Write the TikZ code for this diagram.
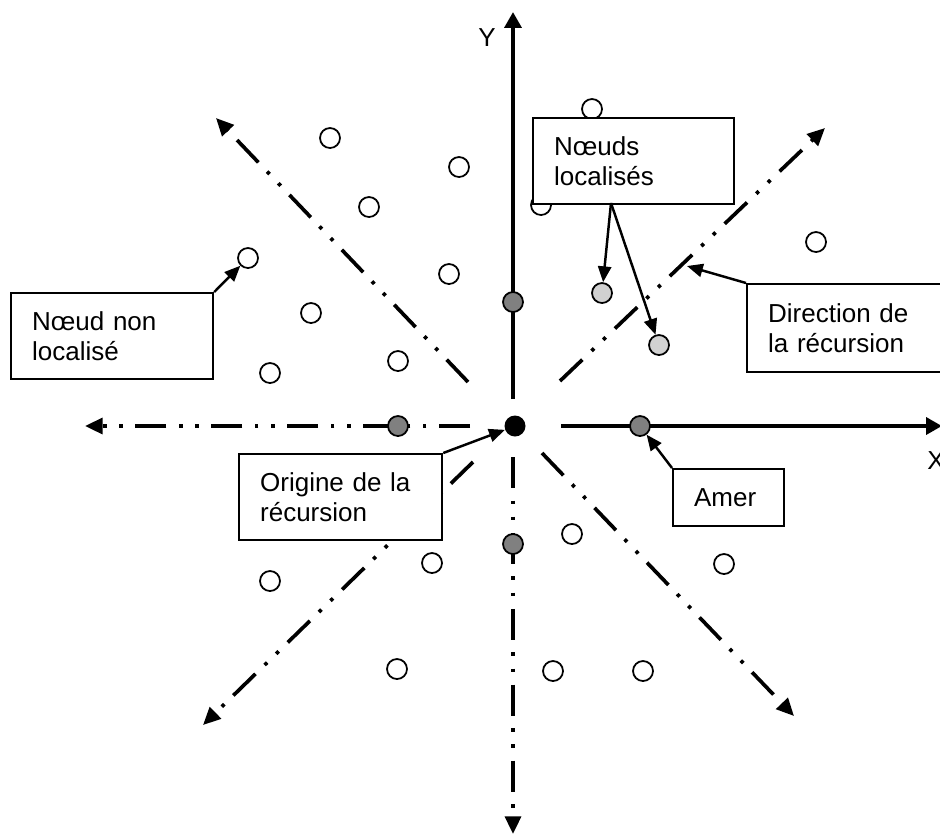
\documentclass[tikz,border=0pt]{standalone}
\usepackage{fontspec}
\setmainfont{Liberation Sans}
\usetikzlibrary{arrows.meta}

\tikzstyle{sensor free}=[draw,circle,minimum size=0.4cm,
    inner sep=0pt,line width=1pt,fill=white]
\tikzstyle{sensor located}=[sensor free,fill=black!18]
\tikzstyle{sensor amer}=[sensor free,fill=black!50]
\tikzstyle{sensor origin}=[fill,circle,minimum size=0.42cm,
    inner sep=0pt,color=black]
\tikzstyle{axis}=[line width=2.2pt,-{Triangle[length=9pt,width=9.5pt]}]
\tikzstyle{recursion}=[line width=2.1pt,
    dash pattern=on 17.6pt off 7.2pt on 2pt off 7.2pt on 2pt off 7.2pt,
    -{Triangle[length=10pt,width=9pt]}]
\tikzstyle{info}=[draw,fill=white,line width=1.3pt,anchor=north west,
    align=left,inner xsep=0.42cm,inner ysep=0pt]
\tikzstyle{pointer}=[line width=1.4pt,-{Triangle[length=9pt,width=7.5pt]}]
\newcommand{\sensor}[3][]{
    \node[sensor free,#1] at (#2) (#3) {};
}
\newcommand{\infobox}[5]{
    \node[info,text width=#3,minimum height=#4] at (#1) (#2) {#5};
}
\newcommand{\recursion}[2]{\draw[recursion] (#1) -- (#2);}
\newcommand{\pointer}[2]{\draw[pointer] (#1) -- (#2);}

\begin{document}
\begin{tikzpicture}[x=0.02cm,y=-0.02cm,
    font=\fontsize{14.8pt}{17.1pt}\selectfont]
    \useasboundingbox (0,0) rectangle (940,836);
    %
    \coordinate (NEs) at (560,381);
    \coordinate (NEt) at (825,128);
    \coordinate (NWs) at (468,382);
    \coordinate (NWt) at (216,118);
    \coordinate (SEs) at (542,453);
    \coordinate (SEt) at (794,716);
    \coordinate (SWs) at (473,462);
    \coordinate (SWt) at (203,725);
    \coordinate (Ws) at (470,426);
    \coordinate (Wt) at (85,426);
    \coordinate (Ss) at (513,457);
    \coordinate (St) at (513,834);
    \recursion{NEs}{NEt}
    \recursion{NWs}{NWt}
    \recursion{SEs}{SEt}
    \recursion{SWs}{SWt}
    \recursion{Ws}{Wt}
    \recursion{Ss}{St}
    %
    \coordinate (Ys) at (513,399);
    \coordinate (Yt) at (513,12);
    \coordinate (Xs) at (561,426);
    \coordinate (Xt) at (942,426);
    \draw[axis] (Ys) -- (Yt);
    \draw[axis] (Xs) -- (Xt);
    \node (ylabel) at (487,38) {Y};
    \node (xlabel) at (936,461) {X};
    %
    \node[sensor origin] at (515,426) (origin) {};
    \sensor[sensor amer]{513,302}{a1}
    \sensor[sensor amer]{640,426}{a2}
    \sensor[sensor amer]{513,544}{a3}
    \sensor[sensor amer]{398,426}{a4}
    \sensor[sensor located]{602,293}{l1}
    \sensor[sensor located]{659,345}{l2}
    %
    \sensor{592,109}{c1}
    \sensor{330,138}{c2}
    \sensor{459,167}{c3}
    \sensor{369,207}{c4}
    \sensor{541,205}{c5}
    \sensor{816,242}{c6}
    \sensor{248,258}{c7}
    \sensor{449,274}{c8}
    \sensor{311,313}{c9}
    \sensor{270,373}{c10}
    \sensor{398,361}{c11}
    \sensor{572,534}{c12}
    \sensor{432,563}{c13}
    \sensor{724,564}{c14}
    \sensor{270,581}{c15}
    \sensor{397,669}{c16}
    \sensor{553,671}{c17}
    \sensor{643,671}{c18}
    %
    \infobox{10,292}{freebox}{3.2cm}{1.72cm}{Nœud non\\localisé}
    \infobox{532,117}{locbox}{3.18cm}{1.72cm}{Nœuds\\localisés}
    \infobox{746,283}{dirbox}{3.16cm}{1.76cm}{Direction de\\la récursion}
    \infobox{238,453}{origbox}{3.22cm}{1.72cm}{Origine de la\\récursion}
    \infobox{672,468}{amerbox}{1.38cm}{1.14cm}{Amer}
    %
    \coordinate (locfoot) at (611,203);
    \coordinate (dirmark) at (687,266);
    \pointer{freebox.north east}{c7}
    \pointer{locfoot}{l1}
    \pointer{locfoot}{l2}
    \pointer{dirbox.north west}{dirmark}
    \pointer{origbox.north east}{origin}
    \pointer{amerbox.north west}{a2}
\end{tikzpicture}
\end{document}
